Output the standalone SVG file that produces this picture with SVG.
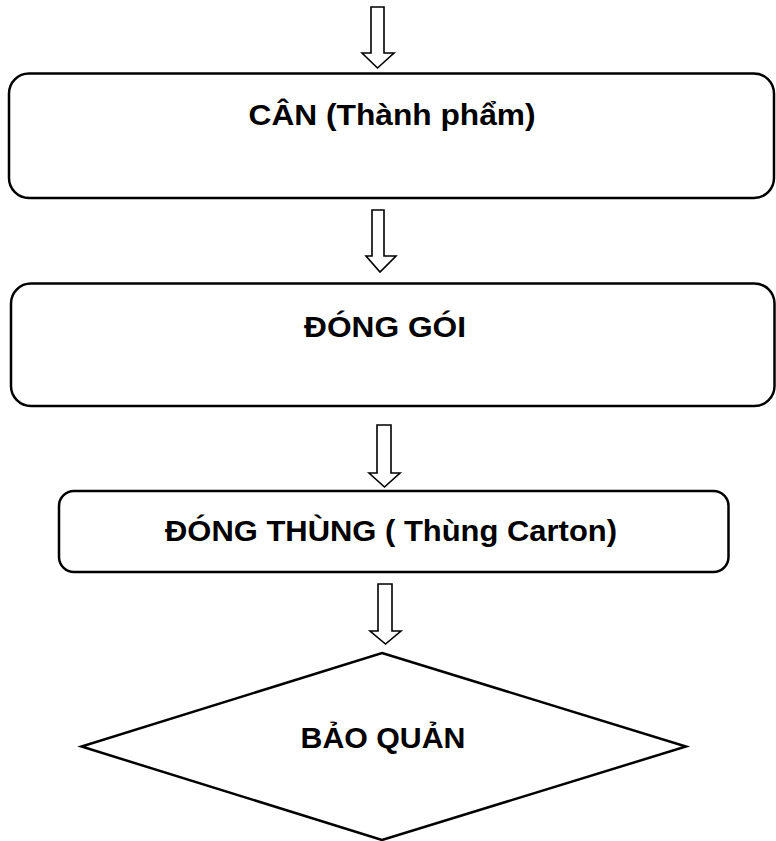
<svg xmlns="http://www.w3.org/2000/svg" width="776" height="841" viewBox="0 0 776 841">
<style>
.box{fill:#fff;stroke:#000;stroke-width:2.5}
.arr{fill:#fff;stroke:#000;stroke-width:1.6;stroke-linejoin:miter}
.t{font-family:"Liberation Sans",Arial,sans-serif;font-weight:bold;font-size:29px;fill:#000;text-anchor:middle}
</style>
<rect width="776" height="841" fill="#fff"/>
<g id="connectors">
<polygon class="arr" points="371,7 384,7 384,53 394,53 377.5,68 362,53 371,53"/>
<polygon class="arr" points="372,210 384,210 384,256 396,256 380,272 366,256 372,256"/>
<polygon class="arr" points="377,425 391,425 391,473 400,473 384.5,487 369,473 377,473"/>
<polygon class="arr" points="378,584 392,584 392,631 401,631 385.5,644 370,631 378,631"/>
</g>
<g id="n1">
<rect class="box" x="9" y="73.5" width="765" height="124.5" rx="20"/>
<text class="t" x="392" y="125" textLength="287" lengthAdjust="spacingAndGlyphs">CÂN (Thành phẩm)</text>
</g>
<g id="n2">
<rect class="box" x="11" y="283.5" width="763.5" height="122.5" rx="20"/>
<text class="t" x="385" y="337" textLength="162" lengthAdjust="spacingAndGlyphs">ĐÓNG GÓI</text>
</g>
<g id="n3">
<rect class="box" x="59" y="491" width="669.5" height="81" rx="15"/>
<text class="t" x="391" y="541" textLength="452" lengthAdjust="spacingAndGlyphs">ĐÓNG THÙNG ( Thùng Carton)</text>
</g>
<g id="n4">
<polygon class="box" points="382,653 686,746.5 382,840 81.5,746.5"/>
<text class="t" x="383" y="748" textLength="165" lengthAdjust="spacingAndGlyphs">BẢO QUẢN</text>
</g>
</svg>
